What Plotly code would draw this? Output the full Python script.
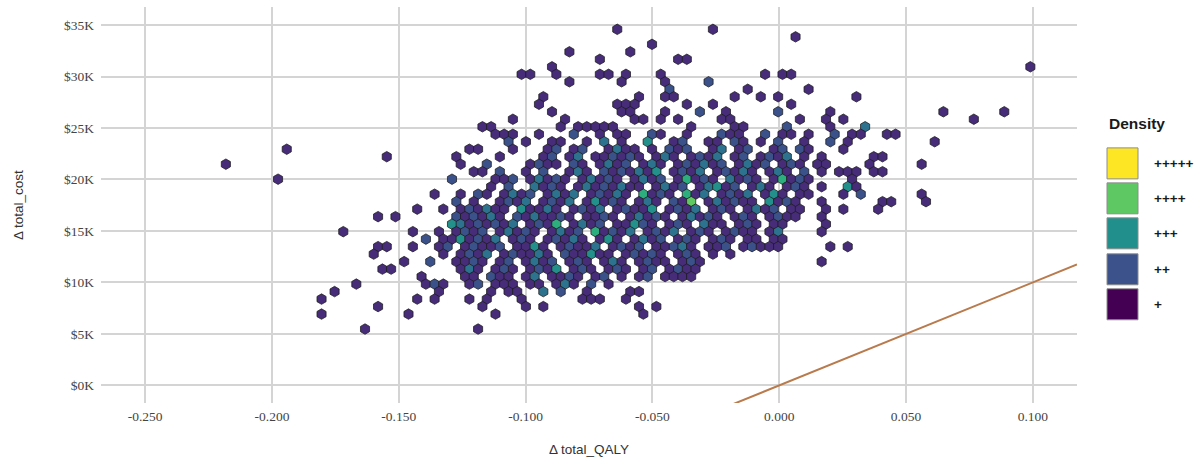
import plotly.graph_objects as go

# ---- hexbin cells: Δ QALY vs Δ cost, one string of occupied columns per hex row ----
# row 0 is the top row; columns index the hex grid from the left
row_cells = [
    "45 56",
    "65",
    "49",
    "39 46",
    "43 52 53",
    "37 92",
    "34 35 38 43 44 46 50 62 64 65",
    "39 45 50 55",
    "51 60 67",
    "36 47 50 51 58 61 63 72",
    "36 45-47 53 56 65",
    "37 45 46 50 54 57 63 69 82 89",
    "33 39 47 48 50 52 57 58 66 69 71 86",
    "29 30 38 40-44 53 58 59 64 69 73",
    "31-33 36 40 43 45 46 49 50 53 57-59 62 64 65 67 70 72 73 76 77",
    "32 34 37 38 41 43 45 48 51 52 55 56 58 59 61 63 66 69 71 81",
    "7 28 29 33 37 38 40 41 44-47 49 51-53 56 57 59 60 63 64 66 67 71",
    "18 26 31 36 37 39 40 42-47 49-51 53-56 58 59 61-64 66 68 74 75",
    "0 27 30 35-38 40 41 43-46 48-50 52-57 59-62 64-66 68 69 74 80",
    "28 29 31 34 36 39-41 43-49 51-54 56-60 62-64 66 68 70-72 74 75",
    "6 26 31-33 35-39 41-45 47-50 52-56 58-61 63-67 72",
    "30 32 35-38 40-47 49-52 54-58 60-62 64-66 68 71 72",
    "24 27 29 30 32-35 37-40 42-46 48-51 53-55 57-60 62-64 66 67 71 73 80",
    "26 28 31-34 36-39 41-45 47-49 51-53 55-60 62-65 68 75 76 80",
    "22 25 27-32 34-38 40-43 45-49 51-54 56-58 60-63 65 66 69 71 75",
    "17 19 26-31 33-39 41-44 46-50 52-56 58-60 62-65 68",
    "26-33 35-38 40-43 45-49 51-53 55-57 59-61 63 64 69",
    "13 21 24 26-29 31-35 37-40 42-46 48-51 53-55 57-60 62 63 68",
    "23 25-31 33-35 37-41 43-45 47-50 52-54 56-58 60 61 63 64",
    "17 18 21 24 25 27-31 33-36 38-42 44-47 49-53 55-57 59-63 69 71",
    "17 25 27-30 32-37 39-44 46-50 52-54 56 58",
    "20 23 26-29 31 32 34-37 39-41 43-45 47-50 52-54 68",
    "18 19 27-29 31-33 35-38 40-42 44-46 48 49 51-54",
    "22 27 28 30-32 34 35 37-40 42 43 45 47 48 50-53",
    "15 23-25 28 29 31-33 35 36 38-40 42 44",
    "12 24 30 32 33 36 38 41 46 47",
    "11 22 24 28 30 34 41-43 46",
    "17 29 34 36 47 49",
    "11 21 31 48",
    "",
    "16 29",
]

# cells holding more than one simulation ("column:count"); all others hold one
row_counts = [
    "", "", "", "", "", "", "",
    "55:2",
    "51:2",
    "",
    "",
    "54:2 63:2",
    "",
    "64:2 73:3",
    "40:2 49:2 57:2 62:2 70:2",
    "32:2 43:3 48:4 52:2 58:2 63:2 69:2",
    "38:2 41:2 45:3 51:2 53:2 57:3 60:2 64:2 66:2",
    "37:2 40:3 44:2 46:2 50:3 54:2 56:3 59:2 62:2 64:3",
    "30:2 36:2 40:2 44:3 46:2 49:3 53:2 55:3 57:2 60:3 62:2 65:2",
    "31:2 36:2 40:3 43:2 45:2 47:3 49:4 52:2 54:3 57:2 59:3 63:3 66:2",
    "26:2 33:2 36:3 38:2 42:3 44:2 48:3 50:2 53:5 55:2 58:3 60:2 64:5 66:2",
    "32:2 35:3 37:2 41:3 43:2 45:3 50:3 52:2 55:3 56:4 58:2 61:3 65:2 71:4",
    "29:2 33:3 35:2 38:3 40:3 43:2 45:3 48:5 50:2 53:5 55:3 58:2 60:3 63:4 73:2",
    "26:2 32:2 34:3 37:2 39:3 42:4 44:2 48:3 51:2 53:6 56:3 58:2 62:4 64:2",
    "28:2 30:3 33:3 34:4 37:3 41:2 43:3 46:2 49:4 52:2 54:3 57:2 59:6 61:3 63:2",
    "26:2 28:2 30:3 33:2 35:3 38:2 40:3 43:2 45:6 47:3 49:2 53:3 55:2 57:5 59:2 63:2",
    "26:4 27:3 29:2 31:2 33:3 36:2 38:5 41:3 43:2 47:4 48:2 52:2 55:3 60:2",
    "27:2 29:2 32:3 34:2 38:3 40:2 42:5 44:2 46:3 49:2 51:3 54:2 58:2 63:3",
    "23:2 27:4 29:2 31:3 34:2 38:2 40:3 44:4 48:3 50:2 53:2 57:2",
    "25:2 28:2 31:2 35:4 39:2 42:3 45:2 47:2 51:2 52:3 57:2 60:2",
    "28:2 30:3 33:2 36:3 39:2 42:4 47:2 49:2 53:2",
    "23:2 28:2 32:2 35:3 37:2 40:2 44:3 48:2 53:2",
    "28:3 32:2 36:2 38:4 41:2 45:2 49:2 52:2",
    "30:2 35:3 39:2 43:2 48:2",
    "24:2 29:2 39:3 42:2",
    "36:3 38:2",
    "", "", "", "", "",
]

# hex grid: centre of column 0 / row 0, column width (QALY) and row height ($)
qaly_origin = -0.21817
cost_origin = 34580.0
qaly_bin = 0.003429
cost_bin = 727.7

wtp = 100000  # willingness-to-pay threshold, $ per QALY

x_ticks = [-0.25, -0.20, -0.15, -0.10, -0.05, 0.0, 0.05, 0.10]
x_tick_labels = ["-0.250", "-0.200", "-0.150", "-0.100", "-0.050", "0.000", "0.050", "0.100"]
y_ticks = [0, 5000, 10000, 15000, 20000, 25000, 30000, 35000]
y_tick_labels = ["$0K", "$5K", "$10K", "$15K", "$20K", "$25K", "$30K", "$35K"]

legend_labels = ["+++++", "++++", "+++", "++", "+"]
legend_colors = ["#FDE725", "#5EC962", "#21908C", "#3B528B", "#440154"]
max_count = 8

x_range = [-0.2674, 0.1174]
y_range = [-1710, 36750]


def parse_cells(spec):
    cols = []
    for tok in spec.split():
        if "-" in tok:
            a, b = tok.split("-")
            cols.extend(range(int(a), int(b) + 1))
        else:
            cols.append(int(tok))
    return cols


def parse_counts(spec):
    out = {}
    for tok in spec.split():
        c, n = tok.split(":")
        out[int(c)] = int(n)
    return out


qaly, cost, count = [], [], []
for r, (cells, extra) in enumerate(zip(row_cells, row_counts)):
    bumps = parse_counts(extra)
    shift = 0.5 if r % 2 else 0.0
    for c in parse_cells(cells):
        qaly.append(qaly_origin + qaly_bin * (c + shift))
        cost.append(cost_origin - cost_bin * r)
        count.append(bumps.get(c, 1))

fig = go.Figure()

fig.add_trace(go.Scatter(
    x=qaly, y=cost, mode="markers",
    marker=dict(
        symbol="hexagon", size=10.5,
        color=count, colorscale="Viridis", cmin=0, cmax=max_count,
        line=dict(color="#1c1c1c", width=0.75),
    ),
    showlegend=False, hoverinfo="skip",
))

fig.add_trace(go.Scatter(
    x=x_range, y=[wtp * v for v in x_range], mode="lines",
    line=dict(color="#B97A4C", width=2),
    showlegend=False, hoverinfo="skip",
))

W, H = 1199, 462
L, R, T, B = 101, 1077, 7, 403.3


def px(xp):
    return (xp - L) / (R - L)


def py(yp):
    return (B - yp) / (B - T)


shapes = []
annotations = []

# legend: density swatches
sw_top = [148, 183, 218, 254, 289]
for top, col, lab in zip(sw_top, legend_colors, legend_labels):
    shapes.append(dict(
        type="rect", xref="paper", yref="paper",
        x0=px(1107), x1=px(1138), y0=py(top + 31), y1=py(top),
        fillcolor=col, line=dict(color="#8c8c8c", width=1),
    ))
    annotations.append(dict(
        text="<b>%s</b>" % lab, xref="paper", yref="paper",
        x=px(1152), y=py(top + 15.5), xanchor="left", yanchor="middle",
        showarrow=False, font=dict(family="Liberation Sans, Arial", size=13.5, color="#1a1a1a"),
    ))
annotations.append(dict(
    text="<b>Density</b>", xref="paper", yref="paper",
    x=px(1107), y=py(124), xanchor="left", yanchor="middle",
    showarrow=False, font=dict(family="Liberation Sans, Arial", size=15.5, color="#1a1a1a"),
))

# axis titles
annotations.append(dict(
    text="Δ total_QALY", xref="paper", yref="paper",
    x=0.5, y=py(450), xanchor="center", yanchor="middle",
    showarrow=False, font=dict(family="Liberation Sans, Arial", size=13.5, color="#333333"),
))
annotations.append(dict(
    text="Δ total_cost", xref="paper", yref="paper",
    x=px(18), y=0.5, xanchor="center", yanchor="middle", textangle=-90,
    showarrow=False, font=dict(family="Liberation Sans, Arial", size=13.5, color="#333333"),
))

grid = dict(showgrid=True, gridcolor="#d4d4d4", gridwidth=1.6, zeroline=False,
            showline=False, ticks="")
tick_font = dict(family="Liberation Serif, Times New Roman", size=13.5, color="#444444")

fig.update_layout(
    width=W, height=H,
    margin=dict(l=L, r=W - R, t=T, b=H - B),
    paper_bgcolor="white", plot_bgcolor="white",
    xaxis=dict(range=x_range, tickvals=x_ticks, ticktext=x_tick_labels,
               tickfont=tick_font, ticklabelstandoff=3, **grid),
    yaxis=dict(range=y_range, tickvals=y_ticks, ticktext=y_tick_labels,
               tickfont=tick_font, ticklabelstandoff=6, **grid),
    shapes=shapes, annotations=annotations,
    showlegend=False,
)

fig.write_html("out.html")
